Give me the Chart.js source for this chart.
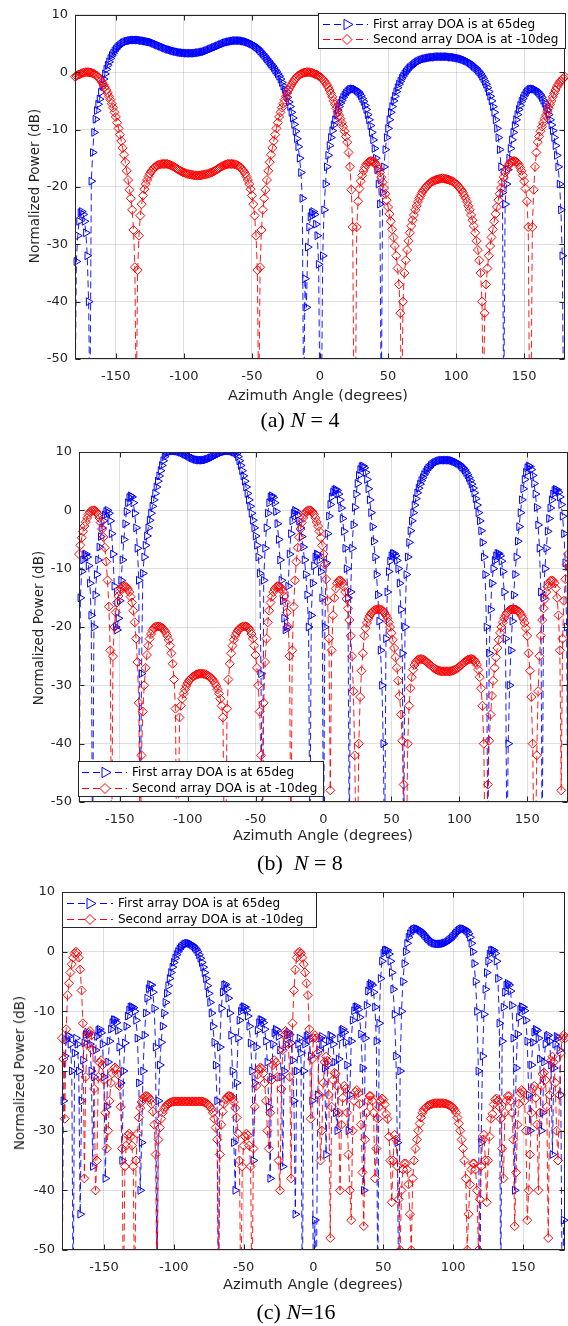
<!DOCTYPE html>
<html>
<head>
<meta charset="utf-8">
<script src="https://cdn.jsdelivr.net/npm/chart.js@4.4.1/dist/chart.umd.min.js"></script>
<style>
html, body { margin: 0; padding: 0; background: #fff; }
#page { position: relative; width: 568px; height: 1326px; overflow: hidden; font-family: "DejaVu Sans", sans-serif; color: #262626; }
canvas { position: absolute; left: 0; }
.ytitle { position: absolute; font-size: 13.5px; white-space: nowrap; transform: translate(-50%, -50%) rotate(-90deg); }
.xtitle { position: absolute; font-size: 14.5px; white-space: nowrap; transform: translate(-50%, -50%); }
.caption { position: absolute; font-family: "Liberation Serif", "Times New Roman", serif; font-size: 22px; color: #000; white-space: nowrap; transform: translate(-50%, -50%); }
</style>
</head>
<body>
<div id="page">
  <canvas id="ca" width="568" height="392" style="top:0px"></canvas>
  <canvas id="cb" width="568" height="400" style="top:430px"></canvas>
  <canvas id="cc" width="568" height="410" style="top:870px"></canvas>

  <div class="ytitle" style="left:34px;top:186px">Normalized Power (dB)</div>
  <div class="xtitle" style="left:318px;top:395px">Azimuth Angle (degrees)</div>
  <div class="caption" style="left:300px;top:420px">(a) <i>N</i> = 4</div>

  <div class="ytitle" style="left:38px;top:628px">Normalized Power (dB)</div>
  <div class="xtitle" style="left:323px;top:835px">Azimuth Angle (degrees)</div>
  <div class="caption" style="left:300px;top:863px">(b)&nbsp; <i>N</i> = 8</div>

  <div class="ytitle" style="left:19px;top:1073px">Normalized Power (dB)</div>
  <div class="xtitle" style="left:313px;top:1284px">Azimuth Angle (degrees)</div>
  <div class="caption" style="left:296px;top:1312px">(c) <i>N</i>=16</div>
</div>
<script>
// azimuth grid, 1 degree steps
const azimuth = [
  -180,-179,-178,-177,-176,-175,-174,-173,-172,-171,-170,-169,-168,-167,-166,-165,-164,-163,-162,-161,
  -160,-159,-158,-157,-156,-155,-154,-153,-152,-151,-150,-149,-148,-147,-146,-145,-144,-143,-142,-141,
  -140,-139,-138,-137,-136,-135,-134,-133,-132,-131,-130,-129,-128,-127,-126,-125,-124,-123,-122,-121,
  -120,-119,-118,-117,-116,-115,-114,-113,-112,-111,-110,-109,-108,-107,-106,-105,-104,-103,-102,-101,
  -100,-99,-98,-97,-96,-95,-94,-93,-92,-91,-90,-89,-88,-87,-86,-85,-84,-83,-82,-81,
  -80,-79,-78,-77,-76,-75,-74,-73,-72,-71,-70,-69,-68,-67,-66,-65,-64,-63,-62,-61,
  -60,-59,-58,-57,-56,-55,-54,-53,-52,-51,-50,-49,-48,-47,-46,-45,-44,-43,-42,-41,
  -40,-39,-38,-37,-36,-35,-34,-33,-32,-31,-30,-29,-28,-27,-26,-25,-24,-23,-22,-21,
  -20,-19,-18,-17,-16,-15,-14,-13,-12,-11,-10,-9,-8,-7,-6,-5,-4,-3,-2,-1,
  0,1,2,3,4,5,6,7,8,9,10,11,12,13,14,15,16,17,18,19,
  20,21,22,23,24,25,26,27,28,29,30,31,32,33,34,35,36,37,38,39,
  40,41,42,43,44,45,46,47,48,49,50,51,52,53,54,55,56,57,58,59,
  60,61,62,63,64,65,66,67,68,69,70,71,72,73,74,75,76,77,78,79,
  80,81,82,83,84,85,86,87,88,89,90,91,92,93,94,95,96,97,98,99,
  100,101,102,103,104,105,106,107,108,109,110,111,112,113,114,115,116,117,118,119,
  120,121,122,123,124,125,126,127,128,129,130,131,132,133,134,135,136,137,138,139,
  140,141,142,143,144,145,146,147,148,149,150,151,152,153,154,155,156,157,158,159,
  160,161,162,163,164,165,166,167,168,169,170,171,172,173,174,175,176,177,178,179,
  180
];

// (a) N = 4  (each row = 10 degrees, starting at -180)
const firstN4 = [
  -60,-33,-28.5,-26,-24.5,-24.3,-24.8,-26,-28,-32,
  -40,-60,-19,-14,-10.5,-8.2,-6.7,-5.6,-4.7,-3.5,
  -2.2,-1.2,-0.3,0.5,1.2,1.8,2.4,2.9,3.3,3.7,
  4.0,4.3,4.5,4.7,4.9,5.1,5.2,5.3,5.4,5.45,
  5.5,5.55,5.6,5.6,5.6,5.6,5.6,5.6,5.55,5.5,
  5.5,5.45,5.4,5.35,5.3,5.25,5.2,5.1,5.0,4.9,
  4.8,4.7,4.6,4.5,4.4,4.3,4.2,4.1,4.0,3.95,
  3.9,3.8,3.7,3.65,3.6,3.55,3.5,3.45,3.4,3.4,
  3.35,3.35,3.3,3.3,3.3,3.3,3.3,3.3,3.3,3.35,
  3.4,3.4,3.45,3.5,3.55,3.6,3.7,3.8,3.9,4.0,
  4.1,4.2,4.3,4.4,4.5,4.6,4.7,4.8,4.9,5.0,
  5.1,5.2,5.25,5.3,5.35,5.4,5.45,5.5,5.5,5.5,
  5.5,5.5,5.5,5.45,5.4,5.35,5.3,5.2,5.1,5.0,
  4.9,4.75,4.6,4.4,4.2,4.0,3.7,3.45,3.2,2.9,
  2.6,2.3,2.0,1.7,1.4,1.1,0.8,0.4,0.1,-0.3,
  -0.7,-1.2,-1.8,-2.4,-3.0,-3.7,-4.4,-5.2,-6.0,-7.0,
  -8.0,-9.1,-10.3,-11.6,-13,-15,-17.5,-22,-60,-36,
  -41,-30.5,-27,-25.2,-24.5,-24.3,-24.8,-26.5,-28.5,-33.5,
  -60,-60,-32,-24,-19.5,-16.5,-14.5,-12.8,-11.4,-10.2,
  -9.2,-8.3,-7.4,-6.6,-6.0,-5.4,-4.9,-4.4,-4.0,-3.7,
  -3.4,-3.2,-3.0,-2.95,-2.9,-2.95,-3.0,-3.2,-3.4,-3.7,
  -4.1,-4.6,-5.1,-5.8,-6.5,-7.4,-8.3,-9.3,-10.5,-11.8,
  -13.3,-15,-17,-19.5,-23,-60,-21,-16.5,-13.5,-11.4,
  -9.8,-8.3,-7,-6,-5,-4.2,-3.4,-2.7,-2.1,-1.6,
  -1.1,-0.7,-0.3,0,0.3,0.6,0.8,1.0,1.2,1.4,
  1.6,1.75,1.9,2.0,2.1,2.2,2.3,2.35,2.4,2.45,
  2.5,2.55,2.6,2.6,2.6,2.65,2.7,2.7,2.7,2.7,
  2.7,2.7,2.7,2.7,2.7,2.65,2.6,2.6,2.6,2.55,
  2.5,2.45,2.4,2.35,2.3,2.2,2.1,2.0,1.9,1.75,
  1.6,1.4,1.2,1.0,0.8,0.6,0.3,0,-0.3,-0.7,
  -1.1,-1.6,-2.1,-2.7,-3.4,-4.2,-5,-6,-7,-8.3,
  -9.8,-11.4,-13.5,-16.5,-21,-60,-23,-19.5,-17,-15,
  -13.3,-11.8,-10.5,-9.3,-8.3,-7.4,-6.5,-5.8,-5.1,-4.6,
  -4.1,-3.7,-3.4,-3.2,-3.0,-2.95,-2.9,-2.95,-3.0,-3.2,
  -3.4,-3.7,-4.0,-4.4,-4.9,-5.4,-6.0,-6.6,-7.4,-8.3,
  -9.2,-10.2,-11.4,-12.8,-14.5,-16.5,-19.5,-24,-32,-60,
  -60
];
const secondN4 = [
  -0.8,-0.65,-0.5,-0.4,-0.3,-0.2,-0.1,-0.05,0,0,
  0,-0.05,-0.1,-0.2,-0.3,-0.45,-0.6,-0.85,-1.1,-1.45,
  -1.8,-2.2,-2.6,-3.1,-3.6,-4.2,-4.8,-5.5,-6.2,-7.0,
  -7.8,-8.8,-9.8,-10.9,-12.0,-13.2,-14.4,-15.7,-17.2,-18.8,
  -20.5,-22,-24,-27.5,-34,-60,-34.5,-28.5,-25,-23,
  -21.5,-20.4,-19.5,-18.8,-18.2,-17.7,-17.3,-17.0,-16.7,-16.5,
  -16.3,-16.2,-16.1,-16.05,-16.0,-16.0,-16.0,-16.0,-16.0,-16.1,
  -16.2,-16.3,-16.4,-16.55,-16.7,-16.85,-17.0,-17.15,-17.3,-17.4,
  -17.5,-17.6,-17.7,-17.75,-17.8,-17.85,-17.9,-17.95,-18.0,-18.0,
  -18.0,-18.0,-18.0,-17.95,-17.9,-17.85,-17.8,-17.75,-17.7,-17.6,
  -17.5,-17.4,-17.3,-17.15,-17.0,-16.85,-16.7,-16.55,-16.4,-16.3,
  -16.2,-16.1,-16.0,-16.0,-16.0,-16.0,-16.0,-16.05,-16.1,-16.2,
  -16.3,-16.5,-16.7,-17.0,-17.3,-17.7,-18.2,-18.8,-19.5,-20.4,
  -21.5,-23,-25,-28.5,-34.5,-60,-34,-27.5,-24,-22,
  -20.5,-18.8,-17.2,-15.7,-14.4,-13.2,-12.0,-10.9,-9.8,-8.8,
  -7.8,-7.0,-6.2,-5.5,-4.8,-4.2,-3.6,-3.1,-2.6,-2.2,
  -1.8,-1.45,-1.1,-0.85,-0.6,-0.45,-0.3,-0.2,-0.1,-0.05,
  0,0,0,-0.05,-0.1,-0.2,-0.3,-0.4,-0.5,-0.65,
  -0.8,-1.0,-1.2,-1.5,-1.8,-2.2,-2.6,-3.1,-3.7,-4.3,
  -5.0,-5.6,-6.3,-6.9,-7.5,-8.1,-8.8,-9.5,-10.3,-11.2,
  -12.2,-14,-16.5,-20.5,-27,-60,-60,-27,-22.5,-20.3,
  -19,-18,-17.2,-16.6,-16.1,-15.8,-15.6,-15.5,-15.5,-15.55,
  -15.7,-16,-16.4,-16.9,-17.5,-18.3,-19.2,-20.2,-21.2,-22.3,
  -23.5,-24.7,-26,-27.4,-28.8,-30.3,-32,-34.2,-37,-42,
  -60,-40,-35,-32.8,-31,-29.4,-28,-26.8,-25.8,-24.9,
  -24,-23.3,-22.6,-22,-21.5,-21,-20.6,-20.3,-20,-19.7,
  -19.5,-19.3,-19.1,-19.0,-18.9,-18.8,-18.7,-18.65,-18.6,-18.55,
  -18.5,-18.55,-18.6,-18.65,-18.7,-18.8,-18.9,-19.0,-19.1,-19.3,
  -19.5,-19.7,-20,-20.3,-20.6,-21,-21.5,-22,-22.6,-23.3,
  -24,-24.9,-25.8,-26.8,-28,-29.4,-31,-32.8,-35,-40,
  -60,-42,-37,-34.2,-32,-30.3,-28.8,-27.4,-26,-24.7,
  -23.5,-22.3,-21.2,-20.2,-19.2,-18.3,-17.5,-16.9,-16.4,-16,
  -15.7,-15.55,-15.5,-15.5,-15.6,-15.8,-16.1,-16.6,-17.2,-18,
  -19,-20.3,-22.5,-27,-60,-60,-27,-20.5,-16.5,-14,
  -12.2,-11.2,-10.3,-9.5,-8.8,-8.1,-7.5,-6.9,-6.3,-5.6,
  -5.0,-4.3,-3.7,-3.1,-2.6,-2.2,-1.8,-1.5,-1.2,-1.0,
  -0.8
];

// (b) N = 8
const firstN8 = [
  -60,-15,-10.5,-8.5,-7.6,-7.5,-8,-9.5,-12.5,-18,
  -60,-20,-14.5,-11,-8.5,-6.3,-4.5,-3,-1.8,-0.8,
  -0.2,0,-0.5,-1.8,-4,-7.5,-13,-20,-20.5,-18.5,
  -15.5,-12,-8.5,-5,-2.3,-0.2,1.3,2.2,2.5,2.3,
  1.3,-0.5,-3,-6.5,-12,-60,-28,-10.8,-8,-6,
  -4.4,-3,-1.7,-0.5,0.7,1.8,2.9,4.0,5.0,5.9,
  6.8,7.7,8.5,9.2,9.7,9.9,10.0,10.1,10.15,10.2,
  10.2,10.2,10.15,10.1,10.05,9.95,9.85,9.75,9.6,9.5,
  9.4,9.25,9.1,9.0,8.9,8.8,8.72,8.66,8.62,8.6,
  8.6,8.6,8.62,8.66,8.72,8.8,8.9,9.0,9.1,9.25,
  9.4,9.5,9.6,9.75,9.85,9.95,10.05,10.1,10.15,10.2,
  10.2,10.2,10.15,10.1,10.0,9.9,9.7,9.2,8.5,7.7,
  6.8,5.9,5.0,4.0,2.9,1.8,0.7,-0.5,-1.7,-3,
  -4.4,-6,-8,-10.8,-28,-60,-12,-6.5,-3,-0.5,
  1.3,2.3,2.5,2.2,1.3,-0.2,-2.3,-5,-8.5,-12,
  -15.5,-18.5,-20.5,-20,-13,-7.5,-4,-1.8,-0.5,0,
  -0.2,-0.8,-1.8,-3,-4.5,-6.3,-8.5,-11,-14.5,-20,
  -60,-18,-12.5,-9.5,-8,-7.5,-7.6,-8.5,-10.5,-15,
  -60,-20,-9,-4,-1,1,2.3,3.1,3.5,3.6,
  3.4,2.8,1.8,0.4,-1.4,-3.6,-6.5,-10,-15,-60,
  -14,-6.5,-2.5,0.5,2.8,4.6,6,7,7.5,7.6,
  7.3,6.5,5.3,3.7,1.8,-0.4,-2.8,-5.3,-8,-11,
  -14.5,-19,-24,-30,-40,-60,-22,-14,-10.5,-8.7,
  -7.8,-7.4,-7.4,-7.8,-8.6,-10,-12.5,-17,-24.5,-60,
  -20,-11,-8,-5.5,-3.5,-1.8,-0.4,0.9,2,3,
  3.8,4.5,5.1,5.6,6.1,6.5,6.9,7.2,7.4,7.7,
  7.9,8.05,8.2,8.3,8.4,8.5,8.55,8.6,8.6,8.6,
  8.6,8.6,8.6,8.6,8.55,8.5,8.4,8.3,8.2,8.05,
  7.9,7.7,7.4,7.2,6.9,6.5,6.1,5.6,5.1,4.5,
  3.8,3,2,0.9,-0.4,-1.8,-3.5,-5.5,-8,-11,
  -20,-60,-24.5,-17,-12.5,-10,-8.6,-7.8,-7.4,-7.4,
  -7.8,-8.7,-10.5,-14,-22,-60,-40,-30,-24,-19,
  -14.5,-11,-8,-5.3,-2.8,-0.4,1.8,3.7,5.3,6.5,
  7.3,7.6,7.5,7,6,4.6,2.8,0.5,-2.5,-6.5,
  -14,-60,-15,-10,-6.5,-3.6,-1.4,0.4,1.8,2.8,
  3.4,3.6,3.5,3.1,2.3,1,-1,-4,-9,-20,
  -60
];
const secondN8 = [
  -7.5,-6,-4.7,-3.6,-2.7,-2.0,-1.3,-0.7,-0.3,-0.1,
  0,0,-0.1,-0.3,-0.7,-1.3,-2.1,-3.2,-4.6,-6.4,
  -8.8,-12,-16.5,-24,-60,-25,-20,-17.5,-15.8,-14.7,
  -13.9,-13.4,-13.1,-13,-13,-13.2,-13.5,-14,-14.8,-15.8,
  -17.2,-19.2,-22,-26,-33,-60,-42,-34.5,-30,-27,
  -24.8,-23.2,-22,-21.2,-20.6,-20.2,-20,-19.9,-19.9,-19.9,
  -20,-20.1,-20.3,-20.6,-21,-21.5,-22.2,-23.2,-24.5,-26.3,
  -29,-34,-60,-60,-35.5,-33.5,-32.3,-31.4,-30.7,-30.1,
  -29.6,-29.2,-28.9,-28.7,-28.5,-28.35,-28.2,-28.1,-28.05,-28,
  -28,-28,-28.05,-28.1,-28.2,-28.35,-28.5,-28.7,-28.9,-29.2,
  -29.6,-30.1,-30.7,-31.4,-32.3,-33.5,-35.5,-60,-60,-34,
  -29,-26.3,-24.5,-23.2,-22.2,-21.5,-21,-20.6,-20.3,-20.1,
  -20,-19.9,-19.9,-19.9,-20,-20.2,-20.6,-21.2,-22,-23.2,
  -24.8,-27,-30,-34.5,-42,-60,-33,-26,-22,-19.2,
  -17.2,-15.8,-14.8,-14,-13.5,-13.2,-13,-13,-13.1,-13.4,
  -13.9,-14.7,-15.8,-17.5,-20,-25,-60,-24,-16.5,-12,
  -8.8,-6.4,-4.6,-3.2,-2.1,-1.3,-0.7,-0.3,-0.1,0,
  0,-0.1,-0.3,-0.7,-1.3,-2.0,-2.7,-3.6,-4.7,-6,
  -7.5,-9.3,-11.8,-15.5,-22,-48,-24,-18,-15,-13.4,
  -12.5,-12.1,-12,-12.1,-12.5,-13.1,-14,-15.2,-16.8,-18.8,
  -21.5,-25,-31,-42,-60,-60,-40,-32,-27.5,-24.5,
  -21.5,-20.2,-19.3,-18.6,-18.1,-17.7,-17.4,-17.2,-17.05,-17,
  -16.95,-16.95,-17,-17.1,-17.3,-17.6,-18,-18.5,-19.2,-20,
  -21,-22.2,-23.6,-25.2,-27,-29.2,-31.8,-35,-39.5,-47,
  -60,-60,-40,-33.5,-30.5,-28.6,-27.3,-26.5,-26,-25.7,
  -25.55,-25.5,-25.5,-25.55,-25.65,-25.8,-26,-26.2,-26.4,-26.6,
  -26.8,-27,-27.15,-27.3,-27.4,-27.5,-27.55,-27.6,-27.6,-27.6,
  -27.6,-27.6,-27.6,-27.6,-27.55,-27.5,-27.4,-27.3,-27.15,-27,
  -26.8,-26.6,-26.4,-26.2,-26,-25.8,-25.65,-25.55,-25.5,-25.5,
  -25.55,-25.7,-26,-26.5,-27.3,-28.6,-30.5,-33.5,-40,-60,
  -60,-47,-39.5,-35,-31.8,-29.2,-27,-25.2,-23.6,-22.2,
  -21,-20,-19.2,-18.5,-18,-17.6,-17.3,-17.1,-17,-16.95,
  -16.95,-17,-17.05,-17.2,-17.4,-17.7,-18.1,-18.6,-19.3,-20.2,
  -21.5,-24.5,-27.5,-32,-40,-60,-60,-42,-31,-25,
  -21.5,-18.8,-16.8,-15.2,-14,-13.1,-12.5,-12.1,-12,-12.1,
  -12.5,-13.4,-15,-18,-24,-48,-22,-15.5,-11.8,-9.3,
  -7.5
];

// (c) N = 16
const firstN16 = [
  -60,-25,-17.5,-14.8,-14,-14.2,-15.5,-20,-60,-17,
  -14.5,-15.5,-20,-44,-25,-18.2,-15.3,-13.9,-13.5,-13.9,
  -15.5,-20,-36,-21,-16.5,-14.2,-13.2,-13,-13.6,-15.5,
  -21,-38,-26,-18.5,-15,-13,-11.9,-11.4,-11.4,-11.9,
  -13.2,-16,-22,-35,-20,-15.3,-12.5,-10.8,-9.8,-9.3,
  -9.2,-9.4,-10,-11.5,-14.5,-22,-40,-32,-20,-14,
  -10.3,-7.8,-6.2,-5.5,-5.6,-6.8,-9.5,-16,-60,-25,
  -19,-15.2,-12.5,-10.3,-8.5,-7,-5.7,-4.5,-3.5,-2.6,
  -1.8,-1.1,-0.5,0.0,0.4,0.7,0.95,1.15,1.3,1.38,
  1.4,1.38,1.3,1.15,0.95,0.7,0.4,0.0,-0.5,-1.1,
  -1.8,-2.6,-3.5,-4.5,-5.7,-7,-8.5,-10.3,-12.5,-15.2,
  -19,-25,-60,-16,-9.5,-6.8,-5.6,-5.5,-6.2,-7.8,
  -10.3,-14,-20,-32,-40,-22,-14.5,-11.5,-10,-9.4,
  -9.2,-9.3,-9.8,-10.8,-12.5,-15.3,-20,-35,-22,-16,
  -13.2,-11.9,-11.4,-11.4,-11.9,-13,-15,-18.5,-26,-38,
  -21,-15.5,-13.6,-13,-13.2,-14.2,-16.5,-21,-36,-20,
  -15.5,-13.9,-13.5,-13.9,-15.3,-18.2,-25,-44,-20,-15.5,
  -14.5,-17,-60,-20,-15.5,-14.2,-14,-14.8,-17.5,-25,
  -60,-45,-60,-24,-16.5,-14.5,-14.2,-15.5,-19.5,-34,
  -19,-15,-14,-14.2,-15.5,-18.5,-27,-30,-18,-14.5,
  -13.2,-13,-13.5,-15.2,-19,-30,-24,-15,-11.5,-9.9,
  -9.3,-9.2,-9.7,-11,-13.8,-19.5,-40,-14.5,-9,-6.6,
  -5.6,-5.3,-5.6,-6.8,-9.3,-15,-60,-12,-4.5,-1.6,
  -0.3,0.2,0.3,0.2,-0.4,-1.6,-3.5,-6.3,-10.5,-17.5,
  -32,-60,-20,-10,-5,-2,0,1.4,2.4,3.0,
  3.4,3.65,3.8,3.85,3.85,3.75,3.6,3.4,3.15,2.9,
  2.6,2.35,2.1,1.9,1.7,1.55,1.45,1.38,1.33,1.3,
  1.3,1.3,1.33,1.38,1.45,1.55,1.7,1.9,2.1,2.35,
  2.6,2.9,3.15,3.4,3.6,3.75,3.85,3.85,3.8,3.65,
  3.4,3.0,2.4,1.4,0,-2,-5,-10,-20,-60,
  -32,-17.5,-10.5,-6.3,-3.5,-1.6,-0.4,0.2,0.3,0.2,
  -0.3,-1.6,-4.5,-12,-60,-15,-9.3,-6.8,-5.6,-5.3,
  -5.6,-6.6,-9,-14.5,-40,-19.5,-13.8,-11,-9.7,-9.2,
  -9.3,-9.9,-11.5,-15,-24,-30,-19,-15.2,-13.5,-13,
  -13.2,-14.5,-18,-30,-27,-18.5,-15.5,-14.2,-14,-15,
  -19,-34,-19.5,-15.5,-14.2,-14.5,-16.5,-24,-60,-45,
  -60
];
const secondN16 = [
  -14.5,-18,-28,-13,-7.3,-5.3,-3.5,-2.1,-1,-0.3,
  0,-0.2,-1,-3,-6.5,-12,-38,-21,-15.5,-13.6,
  -13.3,-14,-16.5,-23,-40,-35,-21,-18.6,-18.2,-19,
  -21.5,-27,-33,-30,-25,-22,-20.4,-19.6,-19.4,-19.7,
  -20.6,-22.5,-26,-33,-60,-36,-32.5,-30.8,-30.5,-31,
  -32.5,-36,-60,-35,-30.5,-27.8,-26.2,-25.2,-24.6,-24.3,
  -24.2,-24.2,-24.4,-24.8,-25.5,-26.8,-29,-34,-60,-31.5,
  -29.5,-28,-27,-26.4,-26,-25.7,-25.5,-25.35,-25.25,-25.15,
  -25.1,-25.1,-25.1,-25.1,-25.1,-25.1,-25.1,-25.1,-25.1,-25.1,
  -25.1,-25.1,-25.1,-25.1,-25.1,-25.1,-25.1,-25.1,-25.1,-25.1,
  -25.1,-25.15,-25.25,-25.35,-25.5,-25.7,-26,-26.4,-27,-28,
  -29.5,-31.5,-60,-34,-29,-26.8,-25.5,-24.8,-24.4,-24.2,
  -24.2,-24.3,-24.6,-25.2,-26.2,-27.8,-30.5,-35,-60,-36,
  -32.5,-31,-30.5,-30.8,-32.5,-36,-60,-33,-26,-22.5,
  -20.6,-19.7,-19.4,-19.6,-20.4,-22,-25,-30,-33,-27,
  -21.5,-19,-18.2,-18.6,-21,-35,-40,-23,-16.5,-14,
  -13.3,-13.6,-15.5,-21,-38,-12,-6.5,-3,-1,-0.2,
  0,-0.3,-1,-2.1,-3.5,-5.3,-7.3,-13,-28,-18,
  -14.5,-14,-14.5,-17,-24,-35,-30,-22,-18.5,-17.6,
  -18.3,-24,-48,-26,-21.5,-20.3,-20.5,-22.5,-27,-40,
  -29,-24.5,-22.5,-23,-27,-34,-40,-45,-30,-25,
  -23.5,-23.2,-23.7,-25.5,-29,-37,-46,-31.5,-27,-25,
  -24.2,-24.2,-25,-27,-38,-33,-28,-26,-25,-24.6,
  -24.8,-25.6,-27.2,-28,-31,-35,-42,-35,-30.7,-31.5,
  -36,-41.5,-50,-40,-36.5,-35.5,-35.5,-36.5,-39,-44,
  -50,-38,-35,-33,-31.5,-30,-28.8,-27.8,-27,-26.5,
  -26.2,-26,-25.8,-25.7,-25.6,-25.5,-25.45,-25.4,-25.4,-25.4,
  -25.4,-25.4,-25.4,-25.4,-25.45,-25.5,-25.6,-25.7,-25.8,-26,
  -26.2,-26.5,-27,-27.8,-28.8,-30,-31.5,-33,-35,-38,
  -50,-44,-39,-36.5,-35.5,-35.5,-36.5,-40,-50,-41.5,
  -36,-31.5,-30.7,-35,-42,-35,-31,-28,-27.2,-25.6,
  -24.8,-24.6,-25,-26,-28,-33,-38,-27,-25,-24.2,
  -24.2,-25,-27,-31.5,-46,-37,-29,-25.5,-23.7,-23.2,
  -23.5,-25,-30,-45,-40,-34,-27,-23,-22.5,-24.5,
  -29,-40,-27,-22.5,-20.5,-20.3,-21.5,-26,-48,-24,
  -18.3,-17.6,-18.5,-22,-30,-35,-24,-17,-14.5,-14,
  -14.5
];

const xTicks = [-150, -100, -50, 0, 50, 100, 150];
const yTicks = [-50, -40, -30, -20, -10, 0, 10];
const seriesNames = ['First array DOA is at 65deg', 'Second array DOA is at -10deg'];

const allSeries = { firstN4, secondN4, firstN8, secondN8, firstN16, secondN16 };
Object.keys(allSeries).forEach(k => {
  if (allSeries[k].length !== azimuth.length) throw new Error(k + ' has ' + allSeries[k].length + ' values');
});

function toPoints(values) {
  return azimuth.map((a, i) => ({ x: a, y: values[i] }));
}

function drawMarker(ctx, style, x, y, r) {
  ctx.beginPath();
  if (style === 'triangle') {
    ctx.moveTo(x + r, y);
    ctx.lineTo(x - r / 2, y - r * Math.sqrt(3) / 2);
    ctx.lineTo(x - r / 2, y + r * Math.sqrt(3) / 2);
  } else {
    ctx.moveTo(x, y - r);
    ctx.lineTo(x + r, y);
    ctx.lineTo(x, y + r);
    ctx.lineTo(x - r, y);
  }
  ctx.closePath();
  ctx.fill();
  ctx.stroke();
}

// box, inward ticks and legend like a MATLAB axes
const matlabAxes = {
  id: 'matlabAxes',
  afterDatasetsDraw(chart, args, opts) {
    const ctx = chart.ctx, a = chart.chartArea;
    const L = Math.round(a.left) + 0.5, R = Math.round(a.right) - 0.5;
    const T = Math.round(a.top) + 0.5, B = Math.round(a.bottom) - 0.5;
    ctx.save();
    ctx.strokeStyle = '#262626';
    ctx.lineWidth = 1;
    ctx.setLineDash([]);
    ctx.beginPath();
    xTicks.forEach(v => {
      const p = Math.round(chart.scales.x.getPixelForValue(v)) + 0.5;
      ctx.moveTo(p, B); ctx.lineTo(p, B - 5);
      ctx.moveTo(p, T); ctx.lineTo(p, T + 5);
    });
    yTicks.forEach(v => {
      const p = Math.round(chart.scales.y.getPixelForValue(v)) + 0.5;
      ctx.moveTo(L, p); ctx.lineTo(L + 5, p);
      ctx.moveTo(R, p); ctx.lineTo(R - 5, p);
    });
    ctx.stroke();
    ctx.strokeRect(L, T, R - L, B - T);
    ctx.restore();
  },
  afterDraw(chart, args, opts) {
    const lg = opts.legend, off = opts.offset, ctx = chart.ctx;
    ctx.save();
    ctx.fillStyle = '#fff';
    ctx.fillRect(lg.x, lg.y - off, lg.w, lg.h);
    ctx.strokeStyle = '#262626';
    ctx.lineWidth = 1;
    ctx.strokeRect(lg.x + 0.5, lg.y - off + 0.5, lg.w - 1, lg.h - 1);
    const rows = [
      { color: '#0000ff', style: 'triangle', name: seriesNames[0] },
      { color: '#ff0000', style: 'diamond', name: seriesNames[1] }
    ];
    rows.forEach((r, i) => {
      const y = lg.rows[i] - off + 0.5;
      ctx.strokeStyle = r.color;
      ctx.lineWidth = 1;
      ctx.setLineDash([7, 4]);
      ctx.beginPath();
      ctx.moveTo(lg.line[0], y);
      ctx.lineTo(lg.line[1], y);
      ctx.stroke();
      ctx.setLineDash([]);
      ctx.fillStyle = '#fff';
      drawMarker(ctx, r.style, lg.marker, y, r.style === 'triangle' ? 6 : 5);
      ctx.fillStyle = '#000';
      ctx.font = '12px "DejaVu Sans"';
      ctx.textBaseline = 'middle';
      ctx.fillText(r.name, lg.text, y);
    });
    ctx.restore();
  }
};

function makePanel(id, top, height, area, first, second, legend) {
  const gridColor = 'rgba(38,38,38,0.15)';
  new Chart(document.getElementById(id), {
    type: 'line',
    data: {
      datasets: [
        {
          label: seriesNames[1], data: toPoints(second), order: 0,
          borderColor: '#ff0000', borderWidth: 0.9, borderDash: [7, 4],
          pointStyle: 'rectRot', pointRadius: 4.5, pointBorderWidth: 1,
          pointBorderColor: '#ff0000', pointBackgroundColor: 'rgba(0,0,0,0)',
          tension: 0, clip: { left: 6, top: 0, right: 6, bottom: 0 }
        },
        {
          label: seriesNames[0], data: toPoints(first), order: 1,
          borderColor: '#0000ff', borderWidth: 0.9, borderDash: [7, 4],
          pointStyle: 'triangle', pointRotation: 90, pointRadius: 4.5, pointBorderWidth: 1,
          pointBorderColor: '#0000ff', pointBackgroundColor: 'rgba(0,0,0,0)',
          tension: 0, clip: { left: 6, top: 0, right: 6, bottom: 0 }
        }
      ]
    },
    options: {
      responsive: false,
      animation: false,
      devicePixelRatio: 1,
      events: [],
      layout: {
        autoPadding: false,
        padding: { left: 0, right: 568 - area.r, top: area.t - top, bottom: 0 }
      },
      plugins: {
        legend: { display: false },
        tooltip: { enabled: false },
        matlabAxes: { legend: legend, offset: top }
      },
      scales: {
        x: {
          type: 'linear', min: -180, max: 180,
          afterBuildTicks: s => { s.ticks = xTicks.map(v => ({ value: v })); },
          afterFit: s => { s.height = top + height - area.b; },
          grid: { color: gridColor, drawTicks: false },
          border: { display: false },
          ticks: { autoSkip: false, maxRotation: 0, padding: 10, color: '#262626', font: { family: 'DejaVu Sans', size: 13 } }
        },
        y: {
          type: 'linear', min: -50, max: 10,
          afterBuildTicks: s => { s.ticks = yTicks.map(v => ({ value: v })); },
          afterFit: s => { s.width = area.l; },
          grid: { color: gridColor, drawTicks: false },
          border: { display: false },
          ticks: { padding: 7, color: '#262626', font: { family: 'DejaVu Sans', size: 13 } }
        }
      }
    },
    plugins: [matlabAxes]
  });
}

makePanel('ca', 0, 392, { l: 75, r: 565, t: 12, b: 359 }, firstN4, secondN4,
  { x: 318, y: 13, w: 248, h: 36, rows: [24, 39], line: [323, 368], marker: 347, text: 373 });
makePanel('cb', 430, 400, { l: 79, r: 568, t: 452, b: 802 }, firstN8, secondN8,
  { x: 78, y: 761, w: 246, h: 36, rows: [772, 788], line: [82, 127], marker: 105, text: 132 });
makePanel('cc', 870, 410, { l: 62, r: 565, t: 892, b: 1250 }, firstN16, secondN16,
  { x: 62, y: 892, w: 255, h: 36, rows: [903, 919], line: [67, 113], marker: 90, text: 118 });
</script>
</body>
</html>
